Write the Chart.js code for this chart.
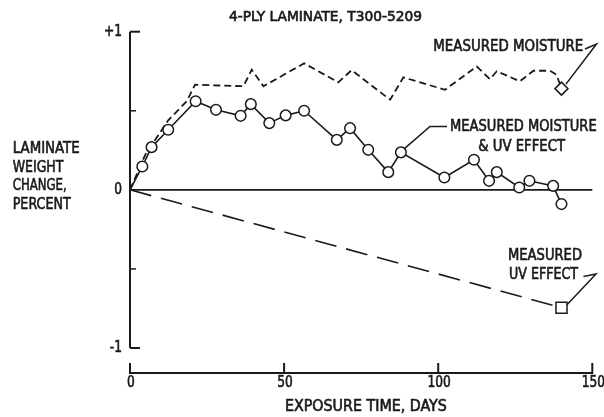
<!DOCTYPE html>
<html>
<head>
<meta charset="utf-8">
<script src="https://cdn.jsdelivr.net/npm/chart.js@4"></script>
<style>
  html, body { margin: 0; padding: 0; background: #fff; }
  canvas { display: block; }
</style>
</head>
<body>
<canvas id="grafico" width="604" height="417"></canvas>
<script>
// Measured moisture & UV effect (open circles)
const giorniUmiditaUv = [0, 4, 7, 12.4, 21.3, 27.9, 35.9, 39.2, 45.2, 50.5, 56.5, 67.1, 71.4, 77.3, 83.8, 87.9, 102, 111.6, 116.5, 119, 126.3, 129.6, 137.3, 140];
const valoriUmiditaUv = [0, 0.148, 0.27, 0.38, 0.56, 0.506, 0.468, 0.542, 0.422, 0.471, 0.5, 0.316, 0.39, 0.253, 0.112, 0.237, 0.078, 0.19, 0.057, 0.112, 0.015, 0.057, 0.025, -0.09];

// Measured moisture (short dashes, diamond at the end)
const giorniUmidita = [0, 4.9, 12.4, 18.4, 21.1, 36.8, 39.5, 43.3, 56.5, 67.6, 71.9, 84.4, 88.7, 102.2, 112.5, 116.8, 119, 126.5, 130.9, 136.3, 138.4, 140];
const valoriUmidita = [0, 0.22, 0.44, 0.56, 0.665, 0.655, 0.76, 0.655, 0.8, 0.68, 0.757, 0.57, 0.711, 0.633, 0.78, 0.7, 0.75, 0.686, 0.753, 0.753, 0.728, 0.64];

// Measured UV effect (long dashes, square at the end)
const giorniUv = [0, 140];
const valoriUv = [0, -0.745];

// Axis ticks
const tickX = [0, 50, 100, 150];
const tickYGrandi = [1, -1];
const tickYPiccoli = [0.5, -0.5];
const etichetteY = ["+1", "0", "-1"];
const valoriEtichetteY = [1, 0, -1];

const NERO = "#1a1a1a";
const FONT = "'DejaVu Sans Condensed', 'Liberation Sans Narrow', 'DejaVu Sans', sans-serif";

// Draws text squeezed to a given width (the original uses a condensed face)
function scrivi(ctx, str, x, y, size, larghezza, allinea) {
  ctx.save();
  ctx.font = `${size}px ${FONT}`;
  ctx.fillStyle = NERO;
  ctx.strokeStyle = NERO;
  ctx.lineWidth = 0.6;
  ctx.textBaseline = "middle";
  ctx.textAlign = allinea || "left";
  const k = larghezza ? larghezza / ctx.measureText(str).width : 0.85;
  ctx.translate(x, y);
  ctx.scale(k, 1);
  ctx.fillText(str, 0, 0);
  ctx.strokeText(str, 0, 0);
  ctx.restore();
}

function linea(ctx, punti) {
  ctx.beginPath();
  ctx.moveTo(punti[0][0], punti[0][1]);
  for (let i = 1; i < punti.length; i++) ctx.lineTo(punti[i][0], punti[i][1]);
  ctx.stroke();
}

// Axes, ticks and zero line, under the data
const assi = {
  id: "assi",
  beforeDatasetsDraw(chart) {
    const { ctx, scales: { x, y } } = chart;
    const x0 = x.getPixelForValue(0);
    const yTop = y.getPixelForValue(1);
    const yBot = y.getPixelForValue(-1);
    const yAsseX = yBot + 25;
    ctx.save();
    ctx.strokeStyle = NERO;
    ctx.lineCap = "butt";

    ctx.lineWidth = 2;
    linea(ctx, [[x0, yTop], [x0, yBot]]);
    tickYGrandi.forEach(v => linea(ctx, [[x0, y.getPixelForValue(v)], [x0 + 10, y.getPixelForValue(v)]]));
    ctx.lineWidth = 1.5;
    tickYPiccoli.forEach(v => linea(ctx, [[x0, y.getPixelForValue(v)], [x0 + 6, y.getPixelForValue(v)]]));

    // zero line
    ctx.lineWidth = 1.6;
    linea(ctx, [[x0, y.getPixelForValue(0)], [x.getPixelForValue(150), y.getPixelForValue(0)]]);

    // separate time axis below
    ctx.lineWidth = 2;
    linea(ctx, [[x.getPixelForValue(0), yAsseX], [x.getPixelForValue(150), yAsseX]]);
    tickX.forEach(t => {
      const px = x.getPixelForValue(t);
      linea(ctx, [[px, yAsseX + 1], [px, yAsseX - 10]]);
      scrivi(ctx, String(t), px + 1, yAsseX + 10, 16, null, "center");
    });

    etichetteY.forEach((s, i) => scrivi(ctx, s, x0 - 8, y.getPixelForValue(valoriEtichetteY[i]), 16, null, "right"));
    ctx.restore();
  }
};

// Titles and callouts
const annotazioni = {
  id: "annotazioni",
  afterDraw(chart) {
    const { ctx, scales: { x, y } } = chart;
    ctx.save();
    ctx.strokeStyle = NERO;
    ctx.lineWidth = 1.5;

    scrivi(ctx, "4-PLY LAMINATE, T300-5209", 229, 17.7, 14, 193);
    scrivi(ctx, "EXPOSURE TIME, DAYS", 285, 406.7, 15, 161.7);

    scrivi(ctx, "LAMINATE", 12.7, 149, 16, 67);
    scrivi(ctx, "WEIGHT", 12.7, 167.5, 16, 50.7);
    scrivi(ctx, "CHANGE,", 12.7, 186, 16, 54);
    scrivi(ctx, "PERCENT", 12.7, 205, 16, 58);

    // measured moisture -> diamond
    const nU = giorniUmidita.length - 1;
    const dx = x.getPixelForValue(giorniUmidita[nU]);
    const dy = y.getPixelForValue(valoriUmidita[nU]);
    scrivi(ctx, "MEASURED MOISTURE", 433.3, 47, 15, 150);
    linea(ctx, [[585, 49], [596.5, 44], [dx + 4.5, dy - 4.5]]);

    // moisture & UV -> circle near day 88
    const cx = x.getPixelForValue(giorniUmiditaUv[15]);
    const cy = y.getPixelForValue(valoriUmiditaUv[15]);
    scrivi(ctx, "MEASURED MOISTURE", 450, 126.7, 15, 146.7);
    scrivi(ctx, "& UV EFFECT", 478.3, 147.5, 15, 86.7);
    linea(ctx, [[447, 126.5], [430, 126.5], [cx + 3.8, cy - 4]]);

    // UV effect -> square
    const sx = x.getPixelForValue(giorniUv[1]);
    const sy = y.getPixelForValue(valoriUv[1]);
    scrivi(ctx, "MEASURED", 508, 256, 15, 74);
    scrivi(ctx, "UV EFFECT", 509, 275, 15, 69);
    linea(ctx, [[583.5, 276.5], [596, 274], [sx + 5.5, sy - 3]]);

    ctx.restore();
  }
};

const punti = (gg, vv) => gg.map((g, i) => ({ x: g, y: vv[i] }));

new Chart(document.getElementById("grafico"), {
  type: "scatter",
  data: {
    datasets: [
      {
        data: punti(giorniUmiditaUv, valoriUmiditaUv),
        showLine: true,
        borderColor: NERO,
        borderWidth: 1.6,
        pointStyle: "circle",
        pointRadius: giorniUmiditaUv.map((g, i) => (i === 0 ? 0 : 5.3)),
        pointBackgroundColor: "#fff",
        pointBorderColor: NERO,
        pointBorderWidth: 1.5,
        clip: false,
      },
      {
        data: punti(giorniUmidita, valoriUmidita),
        showLine: true,
        borderColor: NERO,
        borderWidth: 1.8,
        borderDash: [7, 4],
        pointStyle: "rectRot",
        pointRadius: giorniUmidita.map((g, i) => (i === giorniUmidita.length - 1 ? 6.5 : 0)),
        pointBackgroundColor: "#fff",
        pointBorderColor: NERO,
        pointBorderWidth: 1.5,
        clip: false,
      },
      {
        data: punti(giorniUv, valoriUv),
        showLine: true,
        borderColor: NERO,
        borderWidth: 1.6,
        borderDash: [22, 10],
        pointStyle: "rect",
        pointRadius: [0, 7.8],
        pointBackgroundColor: "#fff",
        pointBorderColor: NERO,
        pointBorderWidth: 1.5,
        clip: false,
      },
    ],
  },
  options: {
    responsive: false,
    animation: false,
    events: [],
    layout: { padding: { left: 130, right: 11.7, top: 31.7, bottom: 69 } },
    scales: {
      x: { type: "linear", min: 0, max: 150, display: false },
      y: { type: "linear", min: -1, max: 1, display: false },
    },
    plugins: { legend: { display: false }, tooltip: { enabled: false } },
  },
  plugins: [assi, annotazioni],
});
</script>
</body>
</html>
